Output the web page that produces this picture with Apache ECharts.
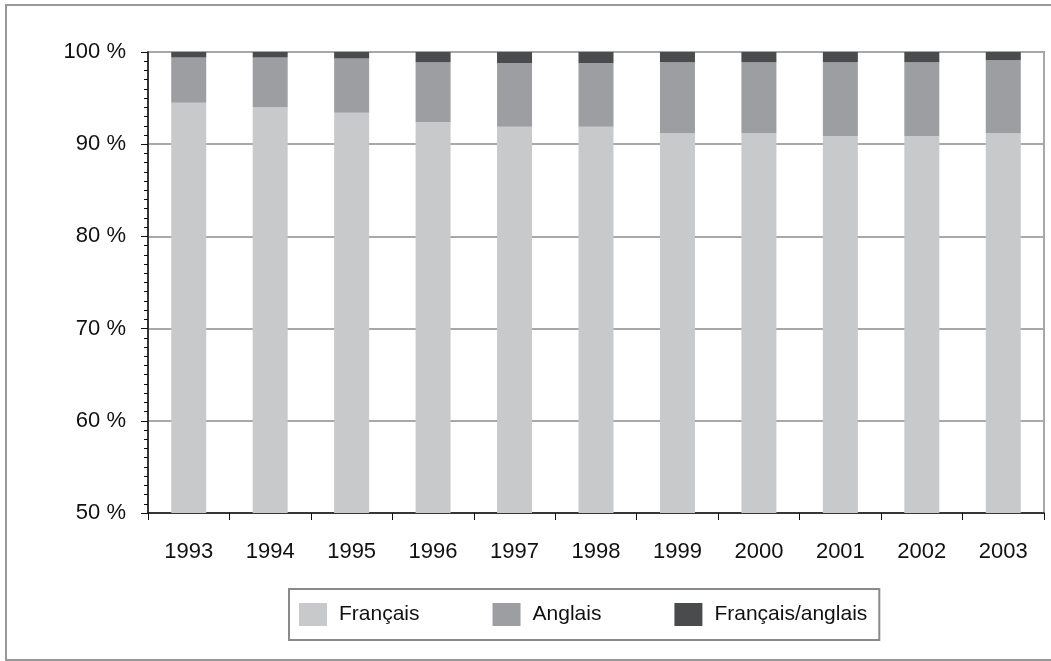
<!DOCTYPE html>
<html>
<head>
<meta charset="utf-8">
<script src="https://cdn.jsdelivr.net/npm/echarts@6/dist/echarts.min.js"></script>
<style>
html,body{margin:0;padding:0;background:#fff;}
#c{width:1051px;height:661px;}
</style>
</head>
<body>
<div id="c"></div>
<script>
const years = ['1993','1994','1995','1996','1997','1998','1999','2000','2001','2002','2003'];
const francais = [94.5, 94.0, 93.4, 92.4, 91.9, 91.9, 91.2, 91.2, 90.9, 90.9, 91.2];
const anglais = [4.9, 5.4, 5.9, 6.5, 6.9, 6.9, 7.7, 7.7, 8.0, 8.0, 7.9];
const mixte = [0.6, 0.6, 0.7, 1.1, 1.2, 1.2, 1.1, 1.1, 1.1, 1.1, 0.9];
const seriesNames = ['Français', 'Anglais', 'Français/anglais'];

const FONT = "'Liberation Sans Narrow', 'Liberation Sans', Arial, sans-serif";
const chart = echarts.init(document.getElementById('c'), null, {renderer: 'canvas'});
chart.setOption({
  animation: false,
  backgroundColor: '#fff',
  textStyle: {fontFamily: FONT},
  graphic: [{
    type: 'rect', silent: true,
    shape: {x: 6, y: 5, width: 1060, height: 655},
    style: {fill: 'none', stroke: '#999', lineWidth: 2}
  }],
  grid: {left: 148, right: 7, top: 52, bottom: 148, show: true, borderColor: '#a8a8a8', borderWidth: 2},
  legend: {
    data: seriesNames,
    left: 289, top: 589,
    padding: [14, 12, 14, 10],
    itemWidth: 28, itemHeight: 23, itemGap: 73,
    borderColor: '#8a8a8a', borderWidth: 2,
    icon: 'rect',
    textStyle: {fontFamily: FONT, fontSize: 21, color: '#111', padding: [0, 0, 0, 7]}
  },
  xAxis: {
    type: 'category', data: years,
    axisLine: {lineStyle: {color: '#111', width: 1.5}},
    axisTick: {show: true, length: 7, alignWithLabel: false, lineStyle: {color: '#111'}},
    axisLabel: {fontFamily: FONT, fontSize: 22, color: '#111', margin: 28},
    splitLine: {show: false}
  },
  yAxis: {
    type: 'value', min: 50, max: 100, interval: 10,
    axisLine: {show: true, lineStyle: {color: '#111', width: 1.5}},
    axisTick: {show: true, length: 7, lineStyle: {color: '#111'}},
    minorTick: {show: true, splitNumber: 10, length: 4, lineStyle: {color: '#111'}},
    axisLabel: {fontFamily: FONT, fontSize: 22, color: '#111', margin: 22, formatter: v => v + ' %'},
    splitLine: {show: true, lineStyle: {color: '#a8a8a8', width: 2}}
  },
  series: [
    {name: seriesNames[0], type: 'bar', stack: 't', data: francais, barWidth: 35, itemStyle: {color: '#c8c9cb'}},
    {name: seriesNames[1], type: 'bar', stack: 't', data: anglais, barWidth: 35, itemStyle: {color: '#9d9ea2'}},
    {name: seriesNames[2], type: 'bar', stack: 't', data: mixte, barWidth: 35, itemStyle: {color: '#4a4b4d'}}
  ]
});
</script>
</body>
</html>
